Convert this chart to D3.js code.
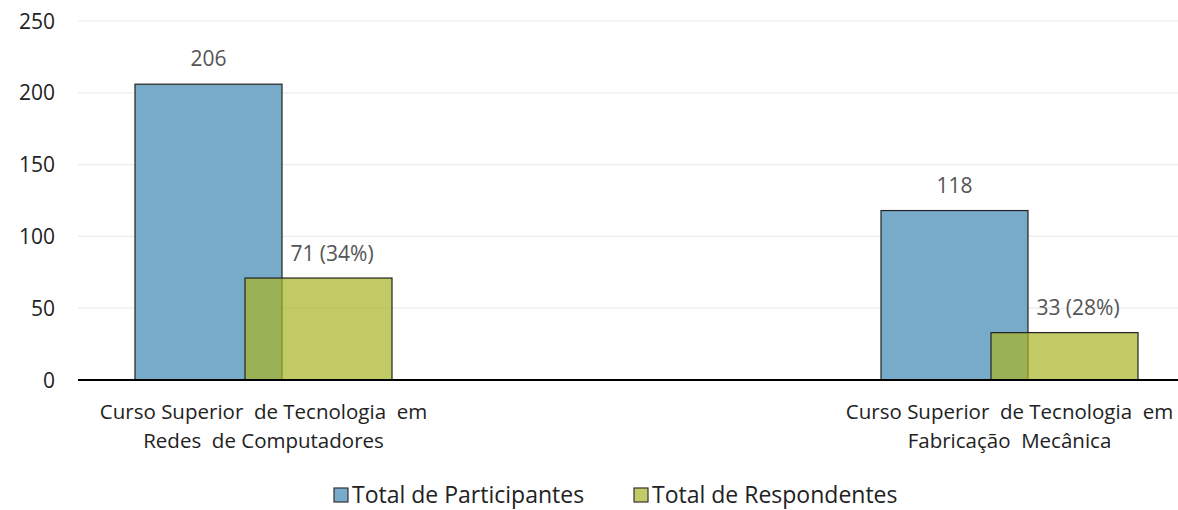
<!DOCTYPE html>
<html>
<head>
<meta charset="utf-8">
<script src="https://cdn.jsdelivr.net/npm/d3@7"></script>
<style>
  body { margin: 0; background: #fff; }
  text { font-family: "Open Sans", Lato, sans-serif; }
</style>
</head>
<body>
<div id="chart-area"></div>
<script>
// data
const courses = ["redes", "fabricacao"]
const courseLines = [
  ["Curso Superior  de Tecnologia  em", "Redes  de Computadores"],
  ["Curso Superior  de Tecnologia  em", "Fabricação  Mecânica"]
]
const seriesNames = ["Total de Participantes", "Total de Respondentes"]
const participantes = [206, 118]
const respondentes = [71, 33]
const respLabels = ["71 (34%)", "33 (28%)"]
const yTicks = [0, 50, 100, 150, 200, 250]

const W = 1178, H = 510
const PLOT = { LEFT: 78, RIGHT: 1178, TOP: 21, BOTTOM: 380 }

const svg = d3.select("#chart-area").append("svg")
  .attr("width", W)
  .attr("height", H)

const y = d3.scaleLinear().domain([0, 250]).range([PLOT.BOTTOM, PLOT.TOP])

// chart area is wider than the picture (cropped on the right)
const x0 = d3.scaleBand().domain(courses).range([-109.5, 1382.5])

// gridlines
svg.append("g").selectAll("line")
  .data(yTicks.filter(t => t > 0))
  .enter().append("line")
  .attr("x1", PLOT.LEFT).attr("x2", PLOT.RIGHT)
  .attr("y1", d => y(d)).attr("y2", d => y(d))
  .attr("stroke", "#ececec").attr("stroke-width", 1.2)

// y tick labels
svg.append("g").selectAll("text")
  .data(yTicks)
  .enter().append("text")
  .attr("x", 55).attr("y", d => y(d) + 7.5)
  .attr("text-anchor", "end")
  .attr("font-size", "21px").attr("fill", "#222")
  .text(d => d)

const groups = svg.append("g").selectAll("g")
  .data(courses)
  .enter().append("g")
  .attr("transform", d => `translate(${x0(d) + x0.bandwidth() / 2},0)`)

const bw = 147

groups.append("rect")
  .attr("x", -128.5)
  .attr("width", bw)
  .attr("y", (d, i) => y(participantes[i]))
  .attr("height", (d, i) => y(0) - y(participantes[i]))
  .attr("fill", "#78abc9")
  .attr("stroke", "#222").attr("stroke-width", 1.2)

groups.append("rect")
  .attr("x", 128.5 - bw)
  .attr("width", bw)
  .attr("y", (d, i) => y(respondentes[i]))
  .attr("height", (d, i) => y(0) - y(respondentes[i]))
  .attr("fill", "rgb(168,180,36)").attr("fill-opacity", 0.7)
  .attr("stroke", "#222").attr("stroke-width", 1.2)

// value labels
groups.append("text")
  .attr("x", -128.5 + bw / 2)
  .attr("y", (d, i) => y(participantes[i]) - 18)
  .attr("text-anchor", "middle")
  .attr("font-size", "21px").attr("fill", "#555")
  .text((d, i) => participantes[i])

groups.append("text")
  .attr("x", 128.5 - bw / 2 + 13.5)
  .attr("y", (d, i) => y(respondentes[i]) - 17.5)
  .attr("text-anchor", "middle")
  .attr("font-size", "21px").attr("fill", "#555")
  .text((d, i) => respLabels[i])

// category labels
groups.append("text")
  .attr("text-anchor", "middle")
  .attr("font-size", "20.5px").attr("fill", "#222")
  .style("white-space", "pre")
  .selectAll("tspan")
  .data((d, i) => courseLines[i])
  .enter().append("tspan")
  .attr("x", 0)
  .attr("y", (d, i) => 419 + i * 29)
  .text(d => d)

// baseline
svg.append("line")
  .attr("x1", PLOT.LEFT).attr("x2", PLOT.RIGHT)
  .attr("y1", y(0)).attr("y2", y(0))
  .attr("stroke", "#000").attr("stroke-width", 2)

// legend
const legendX = [334, 634]
const legendFill = ["#78abc9", "#c3cb66"]
const legend = svg.append("g").selectAll("g")
  .data(seriesNames)
  .enter().append("g")
  .attr("transform", (d, i) => `translate(${legendX[i]}, 488)`)

legend.append("rect")
  .attr("width", 14).attr("height", 14)
  .attr("fill", (d, i) => legendFill[i])
  .attr("stroke", "#333").attr("stroke-width", 1.2)

legend.append("text")
  .attr("x", 18).attr("y", 15)
  .attr("font-size", "23px").attr("fill", "#222")
  .text(d => d)
</script>
</body>
</html>
